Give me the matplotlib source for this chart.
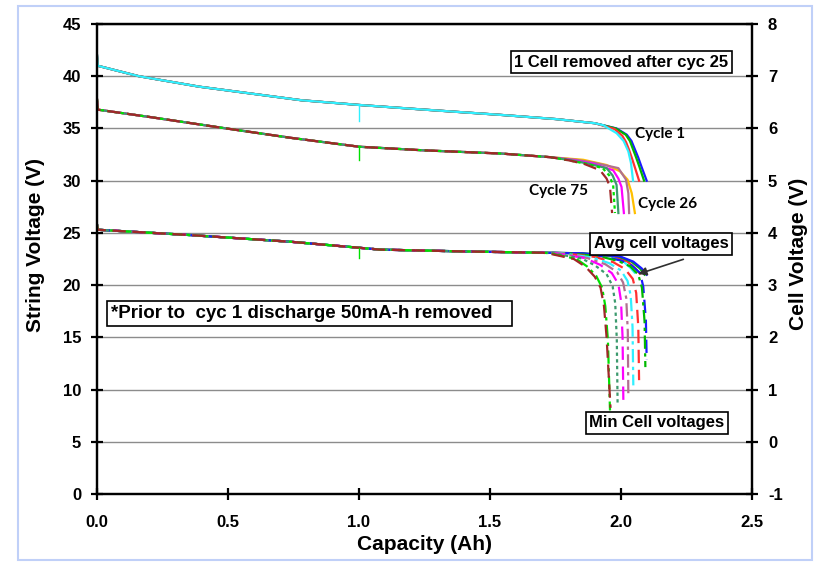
import matplotlib.pyplot as plt
from matplotlib.patches import Rectangle

plt.rcParams['font.family'] = ['Liberation Sans', 'DejaVu Sans']
plt.rcParams['axes.unicode_minus'] = False

# ---- string voltage, cycles 1-25 (shared plateau + knee per cycle) ----
top_cap = [0.0, 0.003, 0.16, 0.39, 0.78, 1.0, 1.25, 1.54, 1.75, 1.90]
top_v = [42.0, 41.0, 40.0, 39.0, 37.7, 37.25, 36.8, 36.3, 35.9, 35.5]

top_blue_cap = [1.983, 2.022, 2.040, 2.053, 2.066, 2.078, 2.098]
top_blue_v = [35.0, 34.4, 33.8, 33.0, 32.2, 31.35, 30.0]
top_green_cap = [1.980, 2.018, 2.034, 2.046, 2.058, 2.070, 2.088]
top_green_v = [35.0, 34.4, 33.8, 33.0, 32.2, 31.35, 30.0]
top_red_cap = [1.975, 2.005, 2.019, 2.030, 2.041, 2.052, 2.069]
top_red_v = [34.95, 34.3, 33.7, 33.0, 32.2, 31.35, 30.0]
top_cyan_cap = [1.933, 1.983, 2.010, 2.028, 2.038, 2.046]
top_cyan_v = [35.3, 34.55, 33.8, 32.8, 31.7, 30.0]

# ---- string voltage, cycles 26-75 (one cell removed) ----
mid_cap = [0.0, 0.003, 0.2, 0.48, 0.74, 1.0, 1.25, 1.54, 1.73]
mid_v = [37.8, 36.8, 36.1, 35.05, 34.1, 33.25, 32.9, 32.6, 32.25]

mid_orange_cap = [1.856, 1.945, 1.996, 2.025, 2.041, 2.053]
mid_orange_v = [32.0, 31.5, 30.9, 30.1, 28.8, 26.9]
mid_mauve_cap = [1.83, 1.90, 1.99, 2.019, 2.028, 2.031]
mid_mauve_v = [32.0, 31.7, 31.2, 30.1, 28.8, 26.9]
mid_magenta_cap = [1.82, 1.89, 1.97, 1.99, 2.002, 2.011]
mid_magenta_v = [31.95, 31.65, 31.0, 30.2, 29.4, 26.9]
mid_seagreen_cap = [1.81, 1.88, 1.945, 1.968, 1.983, 1.990]
mid_seagreen_v = [31.95, 31.6, 31.2, 30.5, 29.6, 26.9]
mid_green_cap = [1.80, 1.87, 1.93, 1.955, 1.970, 1.977]
mid_green_v = [31.95, 31.6, 31.2, 30.5, 29.6, 26.9]
mid_darkred_cap = [1.80, 1.86, 1.92, 1.945, 1.958, 1.966]
mid_darkred_v = [31.95, 31.6, 31.0, 30.2, 29.4, 26.9]

# ---- cell voltages (right axis) ----
cell_cap = [0.0, 0.003, 0.35, 0.74, 1.08, 1.4, 1.7]
cell_v = [4.16, 4.06, 3.96, 3.83, 3.68, 3.645, 3.62]

avg_blue_cap = [1.85, 1.996, 2.047, 2.079, 2.098]
avg_blue_v = [3.61, 3.55, 3.45, 3.32, 3.20]
avg_green_cap = [1.85, 1.99, 2.04, 2.072, 2.090]
avg_green_v = [3.61, 3.55, 3.45, 3.32, 3.20]
avg_red_cap = [1.84, 1.975, 2.025, 2.055, 2.072]
avg_red_v = [3.61, 3.55, 3.45, 3.32, 3.22]
avg_cyan_cap = [1.83, 1.96, 2.01, 2.038, 2.052]
avg_cyan_v = [3.61, 3.55, 3.45, 3.32, 3.24]

min_blue_cap = [1.80, 1.93, 2.00, 2.04, 2.073, 2.085, 2.095, 2.098]
min_blue_v = [3.61, 3.55, 3.47, 3.38, 3.23, 2.97, 2.33, 1.57]
min_green_cap = [1.80, 1.92, 1.99, 2.035, 2.066, 2.080, 2.090, 2.093]
min_green_v = [3.61, 3.55, 3.46, 3.36, 3.20, 2.95, 2.30, 1.43]
min_red_cap = [1.78, 1.90, 1.97, 2.015, 2.045, 2.058, 2.066, 2.069]
min_red_v = [3.61, 3.54, 3.44, 3.31, 3.12, 2.85, 2.20, 1.18]
min_cyan_cap = [1.77, 1.89, 1.955, 2.000, 2.025, 2.037, 2.044, 2.047]
min_cyan_v = [3.61, 3.53, 3.42, 3.28, 3.08, 2.80, 2.20, 1.08]
min_mauve_cap = [1.76, 1.87, 1.94, 1.985, 2.008, 2.020, 2.026, 2.028]
min_mauve_v = [3.61, 3.52, 3.40, 3.25, 3.05, 2.75, 2.10, 0.88]
min_magenta_cap = [1.75, 1.86, 1.92, 1.965, 1.990, 2.000, 2.006, 2.009]
min_magenta_v = [3.61, 3.52, 3.39, 3.23, 3.02, 2.70, 2.00, 0.78]
min_seagreen_cap = [1.74, 1.85, 1.90, 1.945, 1.968, 1.978, 1.984, 1.987]
min_seagreen_v = [3.61, 3.51, 3.38, 3.21, 2.98, 2.65, 1.95, 0.72]
min_lgreen_cap = [1.73, 1.83, 1.87, 1.905, 1.928, 1.940, 1.950, 1.958]
min_lgreen_v = [3.61, 3.50, 3.36, 3.18, 2.95, 2.60, 1.95, 0.60]
min_darkred_cap = [1.72, 1.82, 1.865, 1.90, 1.922, 1.935, 1.945, 1.960]
min_darkred_v = [3.61, 3.50, 3.35, 3.16, 2.95, 2.60, 2.00, 0.65]

# small recording glitches at 1.0 Ah
glitch_top_v = [37.25, 35.7]
glitch_mid_v = [33.2, 32.0]
glitch_cell_v = [3.72, 3.52]

x_ticks = [0.0, 0.5, 1.0, 1.5, 2.0, 2.5]
left_ticks = list(range(0, 50, 5))
right_ticks = list(range(-1, 9))

BLUE = '#1a1aff'
GREEN = '#00b800'
RED = '#ff3030'
CYAN = '#30f0ff'
ORANGE = '#ffc000'
MAUVE = '#b0708f'
MAGENTA = '#ff00ff'
SEAGREEN = '#3c9a6e'
LGREEN = '#00e000'
DARKRED = '#a02828'

DASH = (0, (6, 3))
DASHDOT = (0, (6, 2, 1.5, 2))
DOT = (0, (1.5, 1.5))

fig = plt.figure(figsize=(8.17, 5.63), dpi=100)
fig.patches.append(Rectangle((18 / 817, 1 - 560 / 563), 794 / 817, 554 / 563,
                             transform=fig.transFigure, fill=False,
                             edgecolor='#c0d0f8', linewidth=1.5))
ax = fig.add_axes([97 / 817, 1 - 494 / 563, 655 / 817, 470 / 563])
ax2 = ax.twinx()

ax.set_xlim(0, 2.5)
ax.set_ylim(0, 45)
ax2.set_ylim(-1, 8)
ax.set_xticks(x_ticks)
ax.set_xticklabels([f'{t:.1f}' for t in x_ticks])
ax.set_yticks(left_ticks)
ax2.set_yticks(right_ticks)
ax.yaxis.grid(True, color='#8c8c8c', linewidth=1.0)
ax.set_axisbelow(True)

for a in (ax, ax2):
    for s in a.spines.values():
        s.set_linewidth(1.6)
        s.set_color('black')
    a.tick_params(direction='inout', length=9, width=1.6, labelsize=12, pad=7)
ax.tick_params(axis='x', pad=10.5)
for lab in ax.get_xticklabels() + ax.get_yticklabels() + ax2.get_yticklabels():
    lab.set_fontweight('bold')

ax.set_xlabel('Capacity (Ah)', fontsize=15, fontweight='bold', labelpad=4)
ax.set_ylabel('String Voltage (V)', fontsize=15, fontweight='bold')
ax2.set_ylabel('Cell Voltage (V)', fontsize=15, fontweight='bold')
ax.yaxis.set_label_coords(-0.079, 0.53)
ax2.yaxis.set_label_coords(1.057, 0.51)

# middle group (cycles 26-75)
mid_curves = [
    (mid_orange_cap, mid_orange_v, ORANGE, '-'),
    (mid_mauve_cap, mid_mauve_v, MAUVE, '-'),
    (mid_magenta_cap, mid_magenta_v, MAGENTA, '-'),
    (mid_seagreen_cap, mid_seagreen_v, SEAGREEN, '-'),
    (mid_green_cap, mid_green_v, LGREEN, DOT),
    (mid_darkred_cap, mid_darkred_v, DARKRED, DASH),
]
for cap, v, color, ls in mid_curves:
    ax.plot(mid_cap + cap, mid_v + v, color=color, linestyle=ls, linewidth=1.6)
ax.plot([1.0, 1.0], glitch_mid_v, color=LGREEN, linewidth=1.0)

# top group (cycles 1-25)
top_curves = [
    (top_blue_cap, top_blue_v, BLUE),
    (top_green_cap, top_green_v, GREEN),
    (top_red_cap, top_red_v, RED),
    (top_cyan_cap, top_cyan_v, CYAN),
]
for cap, v, color in top_curves:
    ax.plot(top_cap + cap, top_v + v, color=color, linewidth=1.6)
ax.plot([1.0, 1.0], glitch_top_v, color=CYAN, linewidth=1.0)

# cell voltages on right axis
avg_curves = [
    (avg_cyan_cap, avg_cyan_v, CYAN),
    (avg_red_cap, avg_red_v, RED),
    (avg_green_cap, avg_green_v, GREEN),
    (avg_blue_cap, avg_blue_v, BLUE),
]
for cap, v, color in avg_curves:
    ax2.plot(cell_cap + cap, cell_v + v, color=color, linewidth=1.6)

min_curves = [
    (min_blue_cap, min_blue_v, BLUE, DASH),
    (min_green_cap, min_green_v, GREEN, DASHDOT),
    (min_red_cap, min_red_v, RED, DASH),
    (min_cyan_cap, min_cyan_v, CYAN, DASHDOT),
    (min_mauve_cap, min_mauve_v, MAUVE, DASHDOT),
    (min_magenta_cap, min_magenta_v, MAGENTA, DASH),
    (min_seagreen_cap, min_seagreen_v, SEAGREEN, DOT),
    (min_lgreen_cap, min_lgreen_v, LGREEN, DASHDOT),
    (min_darkred_cap, min_darkred_v, DARKRED, DASH),
]
for cap, v, color, ls in min_curves:
    ax2.plot(cell_cap + cap, cell_v + v, color=color, linestyle=ls, linewidth=1.6)
ax2.plot([1.0, 1.0], glitch_cell_v, color=LGREEN, linewidth=1.0)

# annotations
box = dict(boxstyle='square,pad=0.2', facecolor='white', edgecolor='black', linewidth=1.2)
ax2.text(2.002, 41.36, '1 Cell removed after cyc 25', transform=ax.transData,
         ha='center', va='center', fontsize=12, fontweight='bold', bbox=box)
ax2.text(0.053, 17.3, '*Prior to  cyc 1 discharge 50mA-h removed   ', transform=ax.transData,
         ha='left', va='center', fontsize=13.5, fontweight='bold', bbox=box)
ax2.text(2.153, 23.94, 'Avg cell voltages', transform=ax.transData,
         ha='center', va='center', fontsize=12, fontweight='bold', bbox=box)
ax2.text(2.137, 6.8, 'Min Cell voltages', transform=ax.transData,
         ha='center', va='center', fontsize=12, fontweight='bold', bbox=box)
ax2.annotate('', xy=(2.066, 21.06), xytext=(2.238, 22.47),
             xycoords=ax.transData, textcoords=ax.transData,
             arrowprops=dict(arrowstyle='-|>', color='#303030', lw=1.2,
                             mutation_scale=12, shrinkA=0, shrinkB=0))

cyc_font = dict(fontsize=11, fontweight='bold', family=['Lato', 'DejaVu Sans'],
                ha='center', va='center', transform=ax.transData)
ax2.text(2.149, 34.47, 'Cycle 1', **cyc_font)
ax2.text(1.763, 29.0, 'Cycle 75', **cyc_font)
ax2.text(2.179, 27.77, 'Cycle 26', **cyc_font)

fig.savefig('out.png', dpi=100)
